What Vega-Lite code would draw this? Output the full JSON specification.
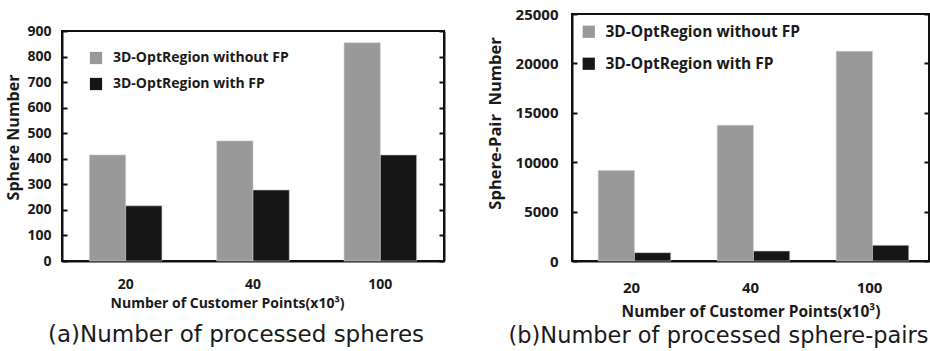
{
  "$schema": "https://vega.github.io/schema/vega-lite/v6.json",
  "padding": {"left": 4, "top": 6, "right": 3, "bottom": 0},
  "background": "white",
  "spacing": 40,
  "resolve": {"scale": {"color": "independent"}, "legend": {"color": "independent"}},
  "config": {
    "view": {"stroke": "#111", "strokeWidth": 2},
    "axis": {
      "labelFont": "Open Sans", "labelFontWeight": "bold", "labelFontSize": 14, "labelColor": "#1a1a1a",
      "titleFont": "Open Sans", "titleFontWeight": "bold", "titleColor": "#1a1a1a",
      "grid": false, "domainColor": "#111", "domainWidth": 2, "tickColor": "#111", "tickWidth": 2
    },
    "legend": {
      "labelFont": "Open Sans", "labelFontWeight": "bold", "labelFontSize": 14, "labelColor": "#1a1a1a", "labelLimit": 0, "labelOffset": 10,
      "symbolType": "square", "symbolSize": 150, "symbolStrokeWidth": 0, "title": null
    },
    "title": {"font": "DejaVu Sans", "fontSize": 22, "fontWeight": "normal", "color": "#1a1a1a"}
  },
  "hconcat": [
    {
      "spacing": 0,
      "vconcat": [
        {
          "width": 382,
          "height": 9,
          "data": {"values": [{"s": 0}]},
          "mark": {"type": "point", "opacity": 0},
          "encoding": {},
          "view": {"stroke": null}
        },
        {
          "title": {"text": "(a)Number of processed spheres", "orient": "bottom", "offset": 14, "dx": -17, "fontSize": 23},
          "width": 382,
          "height": 230,
          "data": {"values": [
            {"points": "20", "series": "3D-OptRegion without FP", "value": 415},
            {"points": "20", "series": "3D-OptRegion with FP", "value": 216},
            {"points": "40", "series": "3D-OptRegion without FP", "value": 470},
            {"points": "40", "series": "3D-OptRegion with FP", "value": 278},
            {"points": "100", "series": "3D-OptRegion without FP", "value": 854},
            {"points": "100", "series": "3D-OptRegion with FP", "value": 415}
          ]},
          "layer": [
            {
              "mark": {"type": "bar", "stroke": "#cfcfcf", "strokeWidth": 0.6},
              "encoding": {
                "x": {"field": "points", "type": "ordinal", "sort": ["20", "40", "100"],
                  "scale": {"paddingInner": 0.43, "paddingOuter": 0.215},
                  "axis": {"labelAngle": 0, "ticks": false, "labelPadding": 16, "title": "Number of Customer Points(x10³)", "titleFontSize": 14, "titlePadding": 5, "titleX": 165}},
                "xOffset": {"field": "series", "type": "nominal", "sort": ["3D-OptRegion without FP", "3D-OptRegion with FP"]},
                "y": {"field": "value", "type": "quantitative",
                  "scale": {"domain": [0, 900], "nice": false},
                  "axis": {"values": [0, 100, 200, 300, 400, 500, 600, 700, 800, 900], "format": "d", "tickSize": -5, "labelPadding": 16, "title": "Sphere Number", "titleFontSize": 16, "titlePadding": 5, "titleY": 106}},
                "color": {"field": "series", "type": "nominal",
                  "scale": {"domain": ["3D-OptRegion without FP", "3D-OptRegion with FP"], "range": ["#999999", "#161616"]},
                  "legend": {"orient": "none", "legendX": 27, "legendY": 37, "rowPadding": 12}}
              }
            },
            {
              "mark": {"type": "bar", "opacity": 0},
              "encoding": {
                "x": {"field": "points", "type": "ordinal", "sort": ["20", "40", "100"]},
                "xOffset": {"field": "series", "type": "nominal", "sort": ["3D-OptRegion without FP", "3D-OptRegion with FP"]},
                "y": {"field": "value", "type": "quantitative",
                  "axis": {"orient": "right", "values": [0, 100, 200, 300, 400, 500, 600, 700, 800, 900], "tickSize": -5, "labels": false, "title": null}}
              }
            }
          ],
          "resolve": {"axis": {"y": "independent"}}
        }
      ]
    },
    {
      "title": {"text": "(b)Number of processed sphere-pairs", "orient": "bottom", "offset": 5, "dx": -32, "fontSize": 22.5},
      "width": 357,
      "height": 247,
      "data": {"values": [
        {"points": "20", "series": "3D-OptRegion without FP", "value": 9170},
        {"points": "20", "series": "3D-OptRegion with FP", "value": 840},
        {"points": "40", "series": "3D-OptRegion without FP", "value": 13750},
        {"points": "40", "series": "3D-OptRegion with FP", "value": 1010},
        {"points": "100", "series": "3D-OptRegion without FP", "value": 21230},
        {"points": "100", "series": "3D-OptRegion with FP", "value": 1590}
      ]},
      "layer": [
        {
          "mark": {"type": "bar", "stroke": "#cfcfcf", "strokeWidth": 0.6},
          "encoding": {
            "x": {"field": "points", "type": "ordinal", "sort": ["20", "40", "100"],
              "scale": {"paddingInner": 0.44, "paddingOuter": 0.22},
              "axis": {"labelAngle": 0, "ticks": false, "labelPadding": 19, "labelFontSize": 15, "title": "Number of Customer Points(x10³)", "titleFontSize": 15.5, "titlePadding": 9}},
            "xOffset": {"field": "series", "type": "nominal", "sort": ["3D-OptRegion without FP", "3D-OptRegion with FP"]},
            "y": {"field": "value", "type": "quantitative",
              "scale": {"domain": [0, 25000], "nice": false},
              "axis": {"values": [0, 5000, 10000, 15000, 20000, 25000], "format": "d", "labelFontSize": 15, "tickSize": -5, "labelPadding": 19, "title": "Sphere-Pair\u00a0\u00a0Number", "titleFontSize": 16.5, "titlePadding": 12, "titleY": 109}},
            "color": {"field": "series", "type": "nominal",
              "scale": {"domain": ["3D-OptRegion without FP", "3D-OptRegion with FP"], "range": ["#999999", "#161616"]},
              "legend": {"orient": "none", "legendX": 9, "legendY": 10, "rowPadding": 15, "labelFontSize": 15.5, "labelOffset": 9}}
          }
        },
        {
          "mark": {"type": "bar", "opacity": 0},
          "encoding": {
            "x": {"field": "points", "type": "ordinal", "sort": ["20", "40", "100"]},
            "xOffset": {"field": "series", "type": "nominal", "sort": ["3D-OptRegion without FP", "3D-OptRegion with FP"]},
            "y": {"field": "value", "type": "quantitative",
              "axis": {"orient": "right", "values": [0, 5000, 10000, 15000, 20000, 25000], "tickSize": -5, "labels": false, "title": null}}
          }
        }
      ],
      "resolve": {"axis": {"y": "independent"}}
    }
  ]
}
